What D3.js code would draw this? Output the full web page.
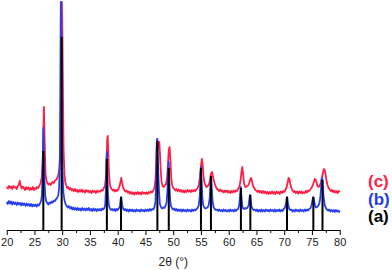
<!DOCTYPE html>
<html>
<head>
<meta charset="utf-8">
<script src="https://cdn.jsdelivr.net/npm/d3@7"></script>
<style>
  body { margin: 0; background: #fff; }
  svg { display: block; font-family: Arial, "Liberation Sans", sans-serif; }
  .axis text { font-size: 11px; fill: #222; }
  .axis path, .axis line { stroke: #000; }
</style>
</head>
<body>
<script>
var width = 392,
    height = 270;

// pattern (c), red trace: [2theta, counts]
var patternC = [
[20.0,430],[20.2,415],[20.4,440],[20.6,420],[20.8,435],[21.0,410],[21.2,440],[21.4,425],[21.6,430],[21.8,410],[22.0,440],[22.2,455],[22.35,490],[22.5,450],[22.7,415],[22.9,435],[23.1,420],[23.3,400],[23.5,430],[23.7,410],[23.9,425],[24.1,400],[24.3,420],[24.5,405],[24.7,430],[24.9,400],[25.1,420],[25.3,410],[25.5,430],[25.7,420],[25.9,445],[26.1,470],[26.3,520],[26.5,700],[26.6,1000],[26.7,1230],[26.8,1000],[26.9,750],[27.0,560],[27.15,500],[27.3,470],[27.5,455],[27.7,465],[27.9,450],[28.1,470],[28.3,480],[28.5,470],[28.7,495],[28.9,500],[29.1,520],[29.3,550],[29.5,620],[29.7,900],[29.82,1500],[29.95,2280],[30.05,1900],[30.15,1300],[30.25,800],[30.4,560],[30.55,480],[30.7,450],[30.9,420],[31.1,430],[31.3,405],[31.5,420],[31.7,395],[31.9,410],[32.1,390],[32.3,410],[32.5,385],[32.7,400],[32.9,380],[33.1,400],[33.3,385],[33.5,405],[33.7,380],[33.9,395],[34.1,375],[34.3,400],[34.5,385],[34.7,395],[34.9,375],[35.1,390],[35.3,370],[35.5,395],[35.7,380],[35.9,390],[36.1,370],[36.3,395],[36.5,380],[36.7,390],[36.9,385],[37.1,400],[37.3,395],[37.5,420],[37.7,440],[37.85,520],[38.0,700],[38.1,900],[38.2,940],[38.3,800],[38.4,600],[38.55,480],[38.7,430],[38.9,410],[39.1,395],[39.3,405],[39.5,385],[39.7,400],[39.9,390],[40.1,410],[40.3,430],[40.5,480],[40.65,520],[40.8,470],[41.0,420],[41.2,400],[41.4,385],[41.6,395],[41.8,375],[42.0,385],[42.2,365],[42.4,380],[42.6,360],[42.8,375],[43.0,355],[43.2,375],[43.4,360],[43.6,380],[43.8,360],[44.0,375],[44.2,355],[44.4,380],[44.6,365],[44.8,375],[45.0,360],[45.2,375],[45.4,360],[45.6,380],[45.8,370],[46.0,385],[46.2,375],[46.4,395],[46.6,420],[46.8,500],[46.95,700],[47.05,880],[47.15,910],[47.25,820],[47.4,860],[47.5,880],[47.6,780],[47.75,600],[47.9,480],[48.1,440],[48.3,430],[48.5,445],[48.7,460],[48.9,520],[49.05,650],[49.2,800],[49.35,830],[49.5,700],[49.65,520],[49.8,450],[50.0,420],[50.2,410],[50.4,395],[50.6,410],[50.8,390],[51.0,405],[51.2,385],[51.4,400],[51.6,380],[51.8,395],[52.0,375],[52.2,395],[52.4,380],[52.6,400],[52.8,385],[53.0,395],[53.2,380],[53.4,400],[53.6,385],[53.8,400],[54.0,390],[54.2,405],[54.4,420],[54.6,450],[54.8,520],[55.0,640],[55.15,710],[55.3,660],[55.45,550],[55.6,480],[55.8,450],[56.0,430],[56.2,440],[56.4,450],[56.6,490],[56.8,560],[57.0,580],[57.15,540],[57.3,500],[57.5,460],[57.7,430],[57.9,410],[58.1,400],[58.3,390],[58.5,405],[58.7,385],[58.9,395],[59.1,375],[59.3,395],[59.5,380],[59.7,395],[59.9,375],[60.1,390],[60.3,370],[60.5,390],[60.7,375],[60.9,395],[61.1,380],[61.3,395],[61.5,390],[61.7,410],[61.9,430],[62.1,480],[62.3,580],[62.45,630],[62.6,560],[62.75,470],[62.9,440],[63.1,430],[63.3,440],[63.5,445],[63.7,470],[63.9,510],[64.05,520],[64.2,490],[64.4,440],[64.6,420],[64.8,400],[65.0,395],[65.2,380],[65.4,395],[65.6,375],[65.8,390],[66.0,370],[66.2,390],[66.4,370],[66.6,385],[66.8,365],[67.0,380],[67.2,360],[67.4,380],[67.6,365],[67.8,385],[68.0,365],[68.2,380],[68.4,360],[68.6,385],[68.8,370],[69.0,380],[69.2,360],[69.4,385],[69.6,370],[69.8,390],[70.0,380],[70.2,400],[70.4,420],[70.6,470],[70.8,520],[70.95,510],[71.1,460],[71.3,420],[71.5,395],[71.7,380],[71.9,390],[72.1,370],[72.3,385],[72.5,365],[72.7,385],[72.9,370],[73.1,385],[73.3,365],[73.5,380],[73.7,370],[73.9,390],[74.1,375],[74.3,395],[74.5,390],[74.7,405],[74.9,420],[75.1,440],[75.3,470],[75.5,510],[75.7,500],[75.85,470],[76.0,440],[76.2,430],[76.4,445],[76.6,470],[76.8,520],[77.0,580],[77.15,610],[77.3,600],[77.45,560],[77.6,500],[77.8,450],[78.0,420],[78.2,405],[78.4,390],[78.6,400],[78.8,380],[79.0,395],[79.2,375],[79.4,390],[79.6,370],[79.8,390],[80.0,380]
];

// pattern (b), blue trace
var patternB = [
[20.0,280],[20.2,260],[20.4,290],[20.6,265],[20.8,285],[21.0,255],[21.2,280],[21.4,260],[21.6,275],[21.8,250],[22.0,275],[22.2,255],[22.4,270],[22.6,245],[22.8,270],[23.0,250],[23.2,265],[23.4,240],[23.6,265],[23.8,245],[24.0,260],[24.2,240],[24.4,260],[24.6,235],[24.8,255],[25.0,240],[25.2,255],[25.4,235],[25.6,255],[25.8,245],[26.0,265],[26.2,290],[26.35,350],[26.45,550],[26.55,850],[26.62,1020],[26.7,800],[26.8,500],[26.95,340],[27.1,290],[27.3,270],[27.5,255],[27.7,275],[27.9,265],[28.1,285],[28.3,275],[28.5,295],[28.7,290],[28.9,310],[29.1,320],[29.3,350],[29.45,420],[29.58,700],[29.67,1500],[29.75,2280],[29.85,1800],[29.95,1000],[30.05,600],[30.2,380],[30.4,300],[30.6,260],[30.8,240],[31.0,225],[31.2,240],[31.4,215],[31.6,230],[31.8,205],[32.0,225],[32.2,205],[32.4,220],[32.6,200],[32.8,220],[33.0,200],[33.2,215],[33.4,195],[33.6,220],[33.8,200],[34.0,215],[34.2,195],[34.4,215],[34.6,200],[34.8,220],[35.0,195],[35.2,210],[35.4,190],[35.6,215],[35.8,195],[36.0,210],[36.2,190],[36.4,210],[36.6,195],[36.8,210],[37.0,195],[37.2,215],[37.4,205],[37.6,220],[37.75,250],[37.88,400],[37.98,700],[38.05,780],[38.15,550],[38.25,350],[38.4,250],[38.6,215],[38.8,200],[39.0,210],[39.2,195],[39.4,210],[39.6,190],[39.8,210],[40.0,200],[40.2,215],[40.4,240],[40.55,320],[40.65,330],[40.8,250],[41.0,210],[41.2,200],[41.4,210],[41.6,190],[41.8,205],[42.0,185],[42.2,205],[42.4,190],[42.6,205],[42.8,185],[43.0,200],[43.2,185],[43.4,205],[43.6,190],[43.8,200],[44.0,185],[44.2,205],[44.4,190],[44.6,200],[44.8,185],[45.0,205],[45.2,190],[45.4,205],[45.6,190],[45.8,210],[46.0,195],[46.2,210],[46.4,205],[46.6,225],[46.8,280],[46.95,550],[47.05,880],[47.12,910],[47.2,780],[47.3,600],[47.45,380],[47.6,260],[47.8,230],[48.0,215],[48.2,225],[48.4,220],[48.6,240],[48.8,270],[48.95,380],[49.08,600],[49.18,680],[49.3,500],[49.45,300],[49.6,240],[49.8,215],[50.0,205],[50.2,215],[50.4,195],[50.6,210],[50.8,190],[51.0,205],[51.2,190],[51.4,205],[51.6,185],[51.8,205],[52.0,190],[52.2,200],[52.4,185],[52.6,205],[52.8,190],[53.0,200],[53.2,185],[53.4,205],[53.6,190],[53.8,205],[54.0,195],[54.2,210],[54.4,220],[54.6,245],[54.8,350],[54.92,560],[55.02,630],[55.12,500],[55.25,330],[55.4,250],[55.6,225],[55.8,215],[56.0,220],[56.2,225],[56.4,250],[56.6,330],[56.75,500],[56.85,530],[56.95,420],[57.1,280],[57.3,225],[57.5,210],[57.7,200],[57.9,205],[58.1,190],[58.3,205],[58.5,190],[58.7,200],[58.9,185],[59.1,205],[59.3,190],[59.5,200],[59.7,185],[59.9,200],[60.1,185],[60.3,205],[60.5,190],[60.7,200],[60.9,185],[61.1,205],[61.3,190],[61.5,205],[61.7,210],[61.9,250],[62.05,350],[62.18,430],[62.3,330],[62.45,240],[62.6,215],[62.8,210],[63.0,220],[63.2,215],[63.4,225],[63.6,250],[63.75,320],[63.85,350],[63.95,300],[64.1,240],[64.3,210],[64.5,200],[64.7,205],[64.9,190],[65.1,205],[65.3,185],[65.5,200],[65.7,185],[65.9,205],[66.1,185],[66.3,200],[66.5,185],[66.7,205],[66.9,190],[67.1,200],[67.3,185],[67.5,205],[67.7,190],[67.9,200],[68.1,185],[68.3,205],[68.5,185],[68.7,200],[68.9,190],[69.1,205],[69.3,185],[69.5,200],[69.7,190],[69.9,210],[70.1,220],[70.3,260],[70.45,320],[70.55,330],[70.7,260],[70.9,210],[71.1,200],[71.3,205],[71.5,185],[71.7,200],[71.9,185],[72.1,205],[72.3,190],[72.5,200],[72.7,185],[72.9,205],[73.1,190],[73.3,200],[73.5,185],[73.7,205],[73.9,190],[74.1,205],[74.3,195],[74.5,210],[74.7,215],[74.9,240],[75.1,300],[75.25,330],[75.4,290],[75.55,240],[75.7,225],[75.9,230],[76.1,240],[76.3,260],[76.5,320],[76.65,420],[76.75,510],[76.85,520],[76.95,440],[77.1,330],[77.3,250],[77.5,220],[77.7,205],[77.9,195],[78.1,205],[78.3,185],[78.5,200],[78.7,185],[78.9,200],[79.1,180],[79.3,200],[79.5,185],[79.7,195],[79.9,180],[80.0,195]
];

// reference pattern (a): stick positions and heights
var stickPos    = [26.6, 29.9, 38.05, 40.6, 47.15, 49.2, 55.0, 56.8, 62.2, 63.9, 70.5, 75.25, 76.9];
var stickHeight = [790, 1930, 710, 330, 890, 620, 620, 540, 420, 350, 330, 330, 500];

var xTicks = [20, 25, 30, 35, 40, 45, 50, 55, 60, 65, 70, 75, 80];
var minorTicks = [22.5, 27.5, 32.5, 37.5, 42.5, 47.5, 52.5, 57.5, 62.5, 67.5, 72.5, 77.5];

var labels = ['(c)', '(b)', '(a)'];
var labelColors = ['#ff1f44', '#1f3fe0', '#000000'];

var svg = d3.select('body').append('svg')
    .attr('width', width)
    .attr('height', height);

var xScale = d3.scaleLinear().domain([20, 80]).range([6.7, 339.7]),
    yScale = d3.scaleLinear().domain([0, 2280]).range([230, 2]);

var line = d3.line()
    .x(function(d) { return xScale(d[0]); })
    .y(function(d) { return yScale(d[1]); });

// traces first, sticks on top
svg.append('path')
    .datum(patternC)
    .attr('d', line)
    .attr('fill', 'none')
    .attr('stroke', '#ff1f44')
    .attr('stroke-width', 1.8)
    .attr('stroke-linejoin', 'round');

svg.append('path')
    .datum(patternB)
    .attr('d', line)
    .attr('fill', 'none')
    .attr('stroke', '#2640f0')
    .attr('stroke-width', 1.8)
    .attr('stroke-linejoin', 'round');

svg.selectAll('.stick')
    .data(stickPos)
    .enter().append('line')
    .attr('class', 'stick')
    .attr('x1', function(d) { return xScale(d); })
    .attr('x2', function(d) { return xScale(d); })
    .attr('y1', yScale(0))
    .attr('y2', function(d, i) { return yScale(stickHeight[i]); })
    .attr('stroke', '#000')
    .attr('stroke-width', 2);

// minor ticks
svg.append('g')
    .attr('class', 'axis')
    .attr('transform', 'translate(0,' + yScale(0) + ')')
    .call(d3.axisBottom(xScale).tickValues(minorTicks).tickSize(3).tickFormat(''))
    .select('.domain').remove();

// major ticks + labels
svg.append('g')
    .attr('class', 'axis')
    .attr('transform', 'translate(0,' + yScale(0) + ')')
    .call(d3.axisBottom(xScale).tickValues(xTicks).tickSize(5).tickSizeOuter(0).tickPadding(3).tickFormat(d3.format('d')));

svg.append('text')
    .attr('x', (xScale(20) + xScale(80)) / 2)
    .attr('y', 266)
    .attr('text-anchor', 'middle')
    .style('font-size', '12px')
    .style('fill', '#222')
    .text('2\u03B8 (\u00B0)');

svg.selectAll('.label')
    .data(labels)
    .enter().append('text')
    .attr('class', 'label')
    .attr('x', 368)
    .attr('y', function(d, i) { return 187 + i * 17.5; })
    .style('font-size', '17px')
    .style('font-weight', 'bold')
    .style('fill', function(d, i) { return labelColors[i]; })
    .text(function(d) { return d; });
</script>
</body>
</html>
